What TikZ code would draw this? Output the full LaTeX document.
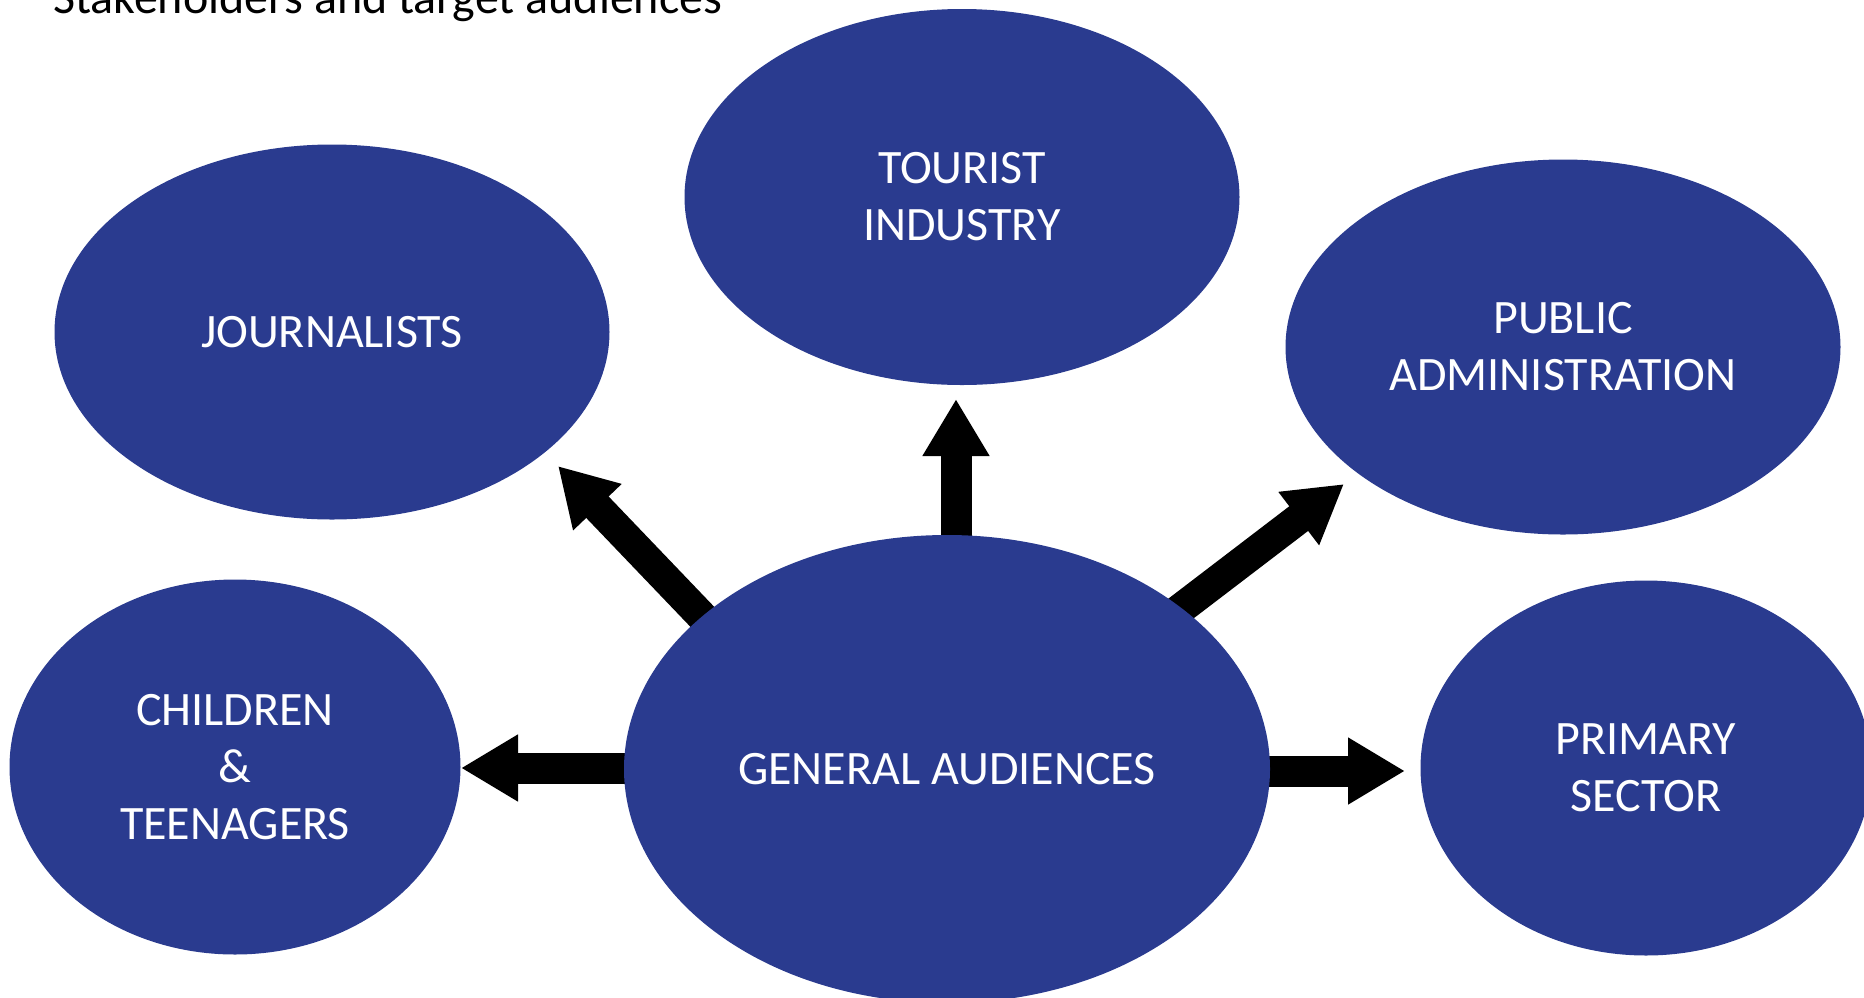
\documentclass[tikz,border=0pt]{standalone}
\usepackage{fontspec}
\setmainfont{Carlito}
\usetikzlibrary{shapes.geometric,arrows.meta,backgrounds}
\definecolor{audblue}{RGB}{42,59,143}
\begin{document}
\begin{tikzpicture}[x=1pt,y=-1pt,
  audience/.style={ellipse,fill=audblue,draw=none,inner sep=0pt,
    text=white,align=center,font=\fontsize{48}{57}\selectfont},
  blockarrow/.style={line width=31pt,
    -{Triangle[length=57pt,width=63pt]}}]
  \useasboundingbox (0,0) rectangle (1864,997);
  \clip (0,0) rectangle (1864,997);

  % heading
  \node[anchor=base west,inner sep=0pt,font=\fontsize{48}{57}\selectfont]
    (title) at (53,13) {Stakeholders and target audiences};

  % audiences
  \node[audience,minimum width=555pt,minimum height=375pt] (jour) at (332,332) {JOURNALISTS};
  \node[audience,minimum width=555pt,minimum height=376pt] (tour) at (962,197) {TOURIST\\INDUSTRY};
  \node[audience,minimum width=555pt,minimum height=375pt] (publ) at (1563,347) {PUBLIC\\ADMINISTRATION};
  \node[audience,minimum width=451pt,minimum height=375pt] (chil) at (235,767) {CHILDREN\\\&\\TEENAGERS};
  \node[audience,minimum width=451pt,minimum height=375pt] (prim) at (1646,768) {PRIMARY\\SECTOR};
  \node[audience,minimum width=646pt,minimum height=468pt] (gen) at (947,769) {GENERAL AUDIENCES};

  % arrow ends: tails sit under the central ellipse
  \coordinate (sJ) at (736,652);   \coordinate (tJ) at (558,466);
  \coordinate (sT) at (956,600);   \coordinate (tT) at (956,399);
  \coordinate (sP) at (1124,652);  \coordinate (tP) at (1344,484);
  \coordinate (sC) at (700,768);   \coordinate (tC) at (461,768);
  \coordinate (sS) at (1200,771);  \coordinate (tS) at (1405,771);

  \begin{scope}[on background layer]
    \draw[blockarrow] (sJ) -- (tJ);
    \draw[blockarrow] (sT) -- (tT);
    \draw[blockarrow] (sP) -- (tP);
    \draw[blockarrow] (sC) -- (tC);
    \draw[blockarrow] (sS) -- (tS);
  \end{scope}
\end{tikzpicture}
\end{document}
